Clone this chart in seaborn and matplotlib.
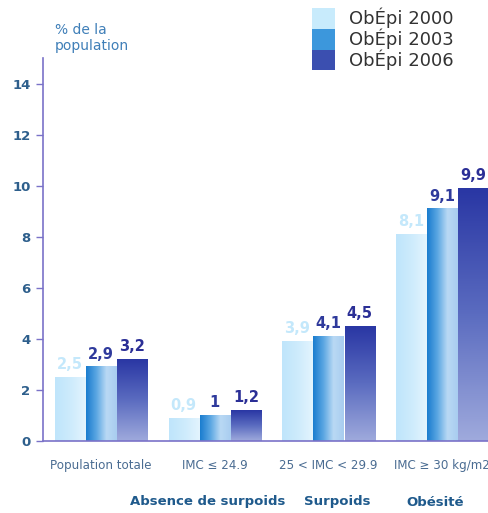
import numpy as np
import pandas as pd
import matplotlib
matplotlib.use("Agg")
import matplotlib.pyplot as plt
from matplotlib.colors import LinearSegmentedColormap
from matplotlib.patches import Patch
import seaborn as sns

# ------------------------------------------------------------
# DATA
# ------------------------------------------------------------
categories = ["Population totale", "IMC \u2264 24.9", "25 < IMC < 29.9", "IMC \u2265 30 kg/m2"]
series = ["ObÉpi 2000", "ObÉpi 2003", "ObÉpi 2006"]
v2000 = [2.5, 0.9, 3.9, 8.1]
v2003 = [2.9, 1.0, 4.1, 9.1]
v2006 = [3.2, 1.2, 4.5, 9.9]
labels2000 = ["2,5", "0,9", "3,9", "8,1"]
labels2003 = ["2,9", "1", "4,1", "9,1"]
labels2006 = ["3,2", "1,2", "4,5", "9,9"]
groups = ["Absence de surpoids", "Surpoids", "Obésité"]

df = pd.DataFrame({
    "cat": categories * 3,
    "serie": [s for s in series for _ in categories],
    "val": v2000 + v2003 + v2006,
})

# ------------------------------------------------------------
# STYLE
# ------------------------------------------------------------
sns.set_theme(style="white")
plt.rcParams["font.family"] = ["DejaVu Sans"]

SPINE = "#7a72c8"
TICK_TXT = "#2e5f8c"
LBL_COLORS = ["#c4e8fb", "#2f3a9c", "#2b2f96"]
FLAT = ["#c8ebfc", "#3c97dc", "#3b4fb0"]

# gradients (per series)
grad2000 = LinearSegmentedColormap.from_list("g0", ["#bfe5fb", "#cdebfc", "#e3f4fe"])
grad2003 = LinearSegmentedColormap.from_list("g1", ["#1b7dcf", "#5aa6e2", "#b9d9f4", "#a9cdf0"])
grad2006 = LinearSegmentedColormap.from_list("g2", ["#2a37a4", "#5b6cc0", "#9ea9dc"])

fig = plt.figure(figsize=(4.89, 5.13), dpi=100)
ax = fig.add_axes([43 / 489, 72 / 513, 1 - 43 / 489, 383 / 513])

sns.barplot(data=df, x="cat", y="val", hue="serie", width=0.82,
            palette=FLAT, ax=ax, legend=False, saturation=1, errorbar=None)

# replace flat bars by gradient images
n = len(categories)
for i, p in enumerate(ax.patches[:3 * n]):
    s = i // n
    x0, w, h = p.get_x(), p.get_width(), p.get_height()
    if s == 2:
        arr = np.linspace(0, 1, 64).reshape(-1, 1)
        cmap = grad2006
    else:
        arr = np.linspace(0, 1, 64).reshape(1, -1)
        cmap = grad2000 if s == 0 else grad2003
    ax.imshow(arr, cmap=cmap, extent=[x0 + 0.004, x0 + w - 0.004, 0, h],
              aspect="auto", origin="upper", zorder=2, interpolation="bilinear")
    p.set_visible(False)
    txt = [labels2000, labels2003, labels2006][s][i % n]
    ax.text(x0 + w / 2, h + 0.2, txt, ha="center", va="bottom",
            fontsize=10.5, fontweight="bold", color=LBL_COLORS[s], zorder=3)

ax.set_xlim(-0.51, 3.41)
ax.set_ylim(0, 15)
ax.set_yticks(range(0, 15, 2))
ax.set_yticklabels([str(t) for t in range(0, 15, 2)], fontsize=9.5,
                   fontweight="bold", color=TICK_TXT)
ax.set_xticks(range(n))
ax.set_xticklabels(categories, fontsize=8.6, color="#4a6c92")
ax.tick_params(axis="y", left=True, length=5, width=1, color=SPINE, pad=4)
ax.tick_params(axis="x", bottom=False, pad=7)
ax.set_xlabel("")
ax.set_ylabel("")
for side in ["top", "right"]:
    ax.spines[side].set_visible(False)
for side in ["left", "bottom"]:
    ax.spines[side].set_color(SPINE)
    ax.spines[side].set_linewidth(1.2)

fig.text(55 / 489, 1 - 38 / 513, "% de la\npopulation", fontsize=10,
         color="#3f7fb8", ha="left", va="center", linespacing=1.25)

# group labels under the axis
for g, xc in zip(groups, [208, 337, 435]):
    fig.text(xc / 489, 1 - 502 / 513, g, fontsize=9.5, fontweight="bold",
             color="#1f5a8c", ha="center", va="center")

handles = [Patch(facecolor=c, edgecolor="none") for c in FLAT]
fig.legend(handles, series, loc="upper left", bbox_to_anchor=(312 / 489, 1 - 8 / 513),
           frameon=False, fontsize=13, handlelength=1.3, handleheight=1.38,
           labelspacing=0.0, handletextpad=0.75, borderaxespad=0, borderpad=0,
           labelcolor="#333333")

fig.savefig("out.png", dpi=100)
